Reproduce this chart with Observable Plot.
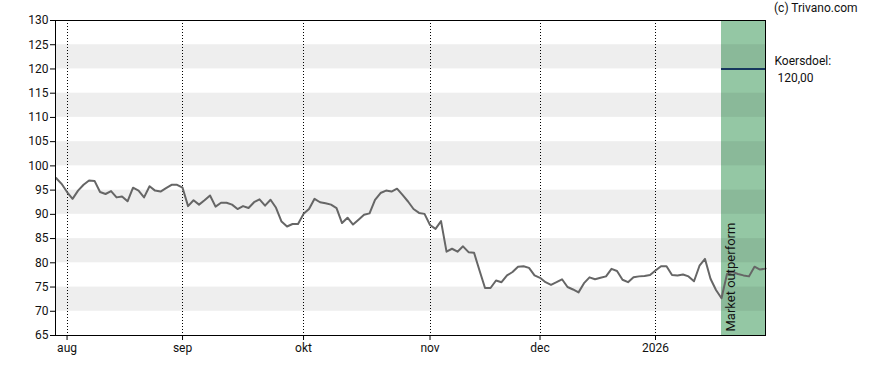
<!DOCTYPE html>
<html>
<head>
<meta charset="utf-8">
<script src="https://cdn.jsdelivr.net/npm/d3@7"></script>
<script src="https://cdn.jsdelivr.net/npm/@observablehq/plot@0.6"></script>
<style>
  html, body { margin: 0; padding: 0; background: #fff; }
  #wrap { position: relative; width: 888px; height: 370px; font-family: Roboto, "Liberation Sans", sans-serif; }
  #credit { position: absolute; left: 774px; top: 0px; font-size: 12px; color: #111; line-height: 16px; }
</style>
</head>
<body>
<div id="wrap">
  <div id="chart"></div>
  <div id="credit">(c) Trivano.com</div>
</div>
<script>
// Daily closing prices (trading-day index 0 = 30 jul, last = 30 jan)
const prices = [
  97.5, 96.3, 94.6, 93.2, 94.9, 96.1, 97.0, 96.9, 94.6, 94.2,
  94.8, 93.5, 93.7, 92.7, 95.5, 94.9, 93.5, 95.8, 94.9, 94.7,
  95.4, 96.1, 96.1, 95.5, 91.7, 92.9, 92.0, 92.9, 93.9, 91.6,
  92.4, 92.4, 92.0, 91.1, 91.7, 91.3, 92.5, 93.1, 91.8, 93.0,
  91.35, 88.5, 87.5, 88.0, 88.0, 90.1, 91.1, 93.2, 92.5, 92.3,
  92.0, 91.3, 88.2, 89.3, 87.9, 88.9, 89.9, 90.2, 93.0, 94.4,
  94.9, 94.7, 95.3, 94.0, 92.65, 91.1, 90.3, 90.1, 87.8, 87.0,
  88.6, 82.3, 82.9, 82.3, 83.4, 82.2, 82.1, 78.4, 74.8, 74.8,
  76.35, 76.0, 77.4, 78.1, 79.2, 79.3, 78.95, 77.4, 76.9, 76.0,
  75.45, 76.0, 76.6, 75.0, 74.5, 73.9, 75.8, 77.0, 76.6, 76.9,
  77.2, 78.75, 78.3, 76.5, 76.0, 77.0, 77.2, 77.3, 77.5, 78.4,
  79.3, 79.3, 77.5, 77.4, 77.6, 77.2, 76.2, 79.4, 80.8, 76.7,
  74.4, 72.7, 77.7, 78.1, 77.7, 77.4, 77.2, 79.2, 78.6, 78.8
];

// Month ticks (trading-day index of first trading day) and their labels
const monthTickIndex = [2, 23, 45, 68, 88, 109];
const monthTickLabels = ["aug", "sep", "okt", "nov", "dec", "2026"];

// Y ticks and shaded stripes
const yTicks = [65, 70, 75, 80, 85, 90, 95, 100, 105, 110, 115, 120, 125, 130];
const stripeStarts = [70, 80, 90, 100, 110, 120];
const stripeWidth = 5;

// Analyst advice and target
const adviceStartIndex = 121;
const adviceLabel = "Market outperform";
const targetPrice = 120;
const targetLabel = "Koersdoel:";

const lastIndex = prices.length - 1;
const xDomain = [-0.1, lastIndex];
const yDomain = [65, 130];

const data = prices.map((v, i) => ({i, v}));
const stripes = stripeStarts.map(s => ({y1: s, y2: s + stripeWidth}));
const advice = [{x1: adviceStartIndex, x2: lastIndex}];
const target = [{x1: adviceStartIndex, x2: lastIndex, y: targetPrice}];

const chart = Plot.plot({
  width: 888,
  height: 370,
  marginTop: 20,
  marginBottom: 35,
  marginLeft: 55,
  marginRight: 123,
  style: {fontFamily: "Roboto, 'Liberation Sans', sans-serif", fontSize: "12px", color: "#111", background: "#fff", overflow: "visible"},
  x: {domain: xDomain, axis: null},
  y: {domain: yDomain, axis: null},
  marks: [
    Plot.rect(advice, {x1: "x1", x2: "x2", y1: yDomain[0], y2: yDomain[1], fill: "#94c7a4"}),
    Plot.rect(stripes, {x1: xDomain[0], x2: xDomain[1], y1: "y1", y2: "y2", fill: "#000", fillOpacity: 0.066}),
    Plot.ruleX(monthTickIndex, {stroke: "#000", strokeWidth: 1, strokeDasharray: "1,2", shapeRendering: "crispEdges"}),
    Plot.lineY(data, {x: "i", y: "v", stroke: "#666", strokeWidth: 2, strokeLinejoin: "round"}),
    Plot.ruleY(target, {x1: "x1", x2: "x2", y: "y", stroke: "#17375e", strokeWidth: 2}),
    Plot.text([adviceLabel], {x: adviceStartIndex, y: yDomain[0], text: d => d, rotate: -90, textAnchor: "start", lineAnchor: "middle", dx: 9, dy: -4, fill: "#111", fontSize: 13}),
    Plot.frame({stroke: "#000", strokeWidth: 1}),
    Plot.axisY({ticks: yTicks, tickSize: 5, tickPadding: 2, tickFormat: d => String(d), fill: "#111", stroke: "#000"}),
    Plot.axisX({ticks: monthTickIndex, tickSize: 5, tickPadding: 3, tickFormat: d => monthTickLabels[monthTickIndex.indexOf(d)], fill: "#111", stroke: "#000"}),
    Plot.text([targetLabel], {x: lastIndex, y: targetPrice, text: d => d, textAnchor: "start", dx: 9, dy: -8, fill: "#111", fontSize: 12}),
    Plot.text([targetPrice], {x: lastIndex, y: targetPrice, text: d => d.toFixed(2).replace(".", ","), textAnchor: "start", dx: 12, dy: 9, fill: "#111", fontSize: 12})
  ]
});
document.getElementById("chart").appendChild(chart);
</script>
</body>
</html>
